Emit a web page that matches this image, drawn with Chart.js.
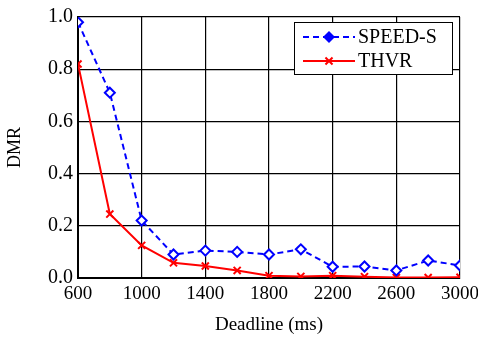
<!DOCTYPE html>
<html>
<head>
<meta charset="utf-8">
<script src="https://cdn.jsdelivr.net/npm/chart.js@4"></script>
<style>
  html, body { margin: 0; padding: 0; background: #fff; }
  #wrap { width: 478px; height: 340px; }
</style>
</head>
<body>
<div id="wrap"><canvas id="dmr" width="478" height="340"></canvas></div>
<script>
const deadlines = [600, 800, 1000, 1200, 1400, 1600, 1800, 2000, 2200, 2400, 2600, 2800, 3000];
const speedS = [0.98, 0.71, 0.22, 0.09, 0.105, 0.10, 0.09, 0.11, 0.043, 0.044, 0.029, 0.067, 0.048];
const thvr = [0.82, 0.245, 0.125, 0.058, 0.046, 0.029, 0.009, 0.006, 0.009, 0.005, 0.002, 0.002, 0.003];

const serif = "'Liberation Serif', 'Times New Roman', serif";

// legend box drawn inside the plot, top right
const boxLegend = {
  id: "boxLegend",
  afterDraw(chart) {
    const ctx = chart.ctx;
    const a = chart.chartArea;
    const x0 = a.right - 166, y0 = a.top + 5, w = 158, h = 52;
    ctx.save();
    ctx.fillStyle = "#fff";
    ctx.fillRect(x0, y0, w, h);
    ctx.strokeStyle = "#000";
    ctx.lineWidth = 1;
    ctx.strokeRect(x0 + 0.5, y0 + 0.5, w, h);
    chart.data.datasets.forEach((ds, i) => {
      const y = y0 + 15 + i * 24;
      ctx.strokeStyle = ds.borderColor;
      ctx.lineWidth = 2;
      ctx.setLineDash(ds.borderDash || []);
      ctx.beginPath();
      ctx.moveTo(x0 + 9, y);
      ctx.lineTo(x0 + 61, y);
      ctx.stroke();
      ctx.setLineDash([]);
      ctx.fillStyle = ds.borderColor;
      if (ds.pointStyle === "rectRot") {
        ctx.beginPath();
        ctx.moveTo(x0 + 35, y - 6);
        ctx.lineTo(x0 + 41, y);
        ctx.lineTo(x0 + 35, y + 6);
        ctx.lineTo(x0 + 29, y);
        ctx.closePath();
        ctx.fill();
      } else {
        Chart.helpers.drawPoint(ctx, { pointStyle: ds.pointStyle, radius: 5, borderWidth: 2 }, x0 + 35, y);
      }
      ctx.fillStyle = "#000";
      ctx.font = "20px " + serif;
      ctx.textBaseline = "middle";
      ctx.fillText(ds.label, x0 + 64, y + 1);
    });
    ctx.restore();
  }
};

new Chart(document.getElementById("dmr"), {
  type: "line",
  data: {
    datasets: [
      {
        label: "SPEED-S",
        data: deadlines.map((d, i) => ({ x: d, y: speedS[i] })),
        borderColor: "rgb(0,0,255)",
        backgroundColor: "#fff",
        borderWidth: 2,
        borderDash: [6, 4],
        pointStyle: "rectRot",
        pointRadius: 5,
        pointBorderWidth: 2,
        tension: 0
      },
      {
        label: "THVR",
        data: deadlines.map((d, i) => ({ x: d, y: thvr[i] })),
        borderColor: "rgb(255,0,0)",
        backgroundColor: "rgb(255,0,0)",
        borderWidth: 2,
        pointStyle: "crossRot",
        pointRadius: 5,
        pointBorderWidth: 2,
        tension: 0
      }
    ]
  },
  options: {
    responsive: false,
    animation: false,
    layout: { padding: { top: 13, right: 18, left: 0, bottom: 0 } },
    plugins: { legend: { display: false }, tooltip: { enabled: false } },
    scales: {
      x: {
        type: "linear",
        min: 600,
        max: 3000,
        afterFit(s) { s.height = 62; s.paddingLeft = 0; s.paddingRight = 0; },
        ticks: {
          stepSize: 400, color: "#000", padding: 5,
          font: { family: serif, size: 19 },
          callback: v => String(v)
        },
        grid: { color: "#000", lineWidth: 1.2, drawTicks: false },
        border: { color: "#000", width: 2 },
        title: { display: true, text: "Deadline (ms)", color: "#000", padding: { top: 12 }, font: { family: serif, size: 19 } }
      },
      y: {
        min: 0,
        max: 1,
        afterFit(s) { s.width = 78; },
        ticks: {
          stepSize: 0.2, color: "#000", padding: 5,
          font: { family: serif, size: 20 },
          callback: v => v.toFixed(1)
        },
        grid: { color: "#000", lineWidth: 1.2, drawTicks: false },
        border: { color: "#000", width: 2 },
        title: { display: true, text: "DMR", color: "#000", padding: { bottom: 6 }, font: { family: serif, size: 18 } }
      }
    }
  },
  plugins: [boxLegend]
});
</script>
</body>
</html>
